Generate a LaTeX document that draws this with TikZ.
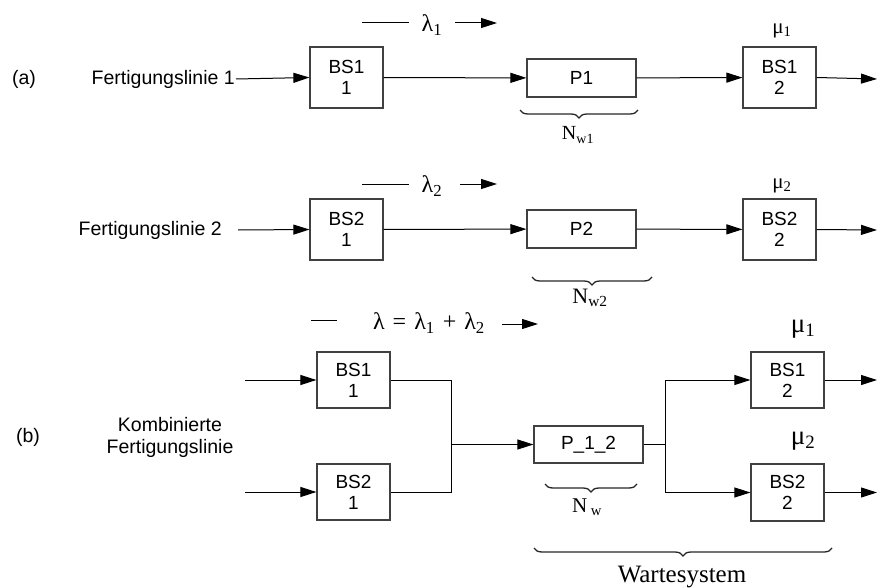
\documentclass[tikz,border=0pt]{standalone}
\usepackage{fontspec}
\setmainfont{Liberation Sans}
\newfontfamily\serif{Liberation Serif}
\usetikzlibrary{arrows.meta,decorations.pathreplacing}
\begin{document}
\begin{tikzpicture}[x=1pt,y=-1pt,
 box/.style={draw=black!75, line width=1.2pt, minimum width=73pt, minimum height=61pt, font=\fontsize{19}{21}\selectfont, align=center, inner sep=0pt},
 pbox/.style={box, minimum width=109pt, minimum height=38pt},
 conn/.style={line width=1pt, -{Triangle[length=16pt,width=10pt]}},
 ln/.style={line width=1pt},
 lbl/.style={font=\fontsize{19.5}{22}\selectfont, inner sep=1pt},
 gr/.style={font=\serif\fontsize{24}{26}\selectfont, inner sep=1pt},
 brc/.style={decorate, decoration={brace, amplitude=8pt}, line width=1.3pt, draw=black!85}
]
\useasboundingbox (0,0) rectangle (877,588);
% ---------- row 1
\node[lbl] (la) at (24,79) {(a)};
\node[lbl, anchor=east] (f1) at (236,79) {Fertigungslinie 1};
\node[box] (a11) at (346.5,77.5) {BS1\\1};
\node[pbox] (p1) at (581.5,78) {P1};
\node[box] (a12) at (779.5,77.5) {BS1\\2};
\coordinate (o1) at (877,79);
\draw[conn] (f1.east) -- (a11.west);
\draw[conn] (a11) -- (p1);
\draw[conn] (p1) -- (a12);
\draw[conn] (a12.east) -- (o1);
\node[gr] (l1) at (432,25) {λ\textsubscript{1}};
\coordinate (l1a) at (362,23); \coordinate (l1b) at (409,23);
\coordinate (l1c) at (455,23); \coordinate (l1d) at (497,23);
\draw[ln] (l1a) -- (l1b);
\draw[conn] (l1c) -- (l1d);
\node[gr, font=\serif\fontsize{21}{23}\selectfont] (m1) at (782,31) {μ\textsubscript{1}};
\coordinate (br1a) at (520,110); \coordinate (br1b) at (638,110);
\draw[brc] (br1b) -- (br1a);
\node[gr, font=\serif\fontsize{20}{22}\selectfont] (n1) at (578,135) {N\textsubscript{w1}};
% ---------- row 2
\node[lbl, anchor=east] (f2) at (223,230) {Fertigungslinie 2};
\node[box] (b11) at (346.5,229.5) {BS2\\1};
\node[pbox] (p2) at (581.5,229) {P2};
\node[box] (b12) at (779.5,229.5) {BS2\\2};
\coordinate (i2) at (238,230);
\coordinate (o2) at (877,230);
\draw[conn] (i2) -- (b11.west);
\draw[conn] (b11) -- (p2);
\draw[conn] (p2) -- (b12);
\draw[conn] (b12.east) -- (o2);
\node[gr] (l2) at (432,186) {λ\textsubscript{2}};
\coordinate (l2a) at (362,184); \coordinate (l2b) at (409,184);
\coordinate (l2c) at (460,184); \coordinate (l2d) at (497,184);
\draw[ln] (l2a) -- (l2b);
\draw[conn] (l2c) -- (l2d);
\node[gr, font=\serif\fontsize{21}{23}\selectfont] (m2) at (782,186) {μ\textsubscript{2}};
\coordinate (br2a) at (532,277); \coordinate (br2b) at (652,277);
\draw[brc] (br2b) -- (br2a);
\node[gr, font=\serif\fontsize{22}{24}\selectfont] (n2) at (590,298) {N\textsubscript{w2}};
% ---------- part b
\node[lbl] (lb) at (28,437) {(b)};
\node[lbl, align=center] (kf) at (170,437) {Kombinierte\\Fertigungslinie};
\node[box, minimum height=56pt] (c11) at (353.5,380) {BS1\\1};
\node[box, minimum height=56pt] (c21) at (353.5,492) {BS2\\1};
\node[pbox, minimum height=37pt] (p12) at (588.5,444.5) {P\_1\_2};
\node[box, minimum height=56pt] (c12) at (787.5,380) {BS1\\2};
\node[box, minimum height=57pt] (c22) at (787.5,492.5) {BS2\\2};
\coordinate (ia) at (245,380); \coordinate (ib) at (245,492);
\draw[conn] (ia) -- (c11.west);
\draw[conn] (ib) -- (c21.west);
\coordinate (ja) at (451,380); \coordinate (jb) at (451,492); \coordinate (jm) at (451,444.5);
\draw[ln] (c11.east) -- (ja) -- (jb) -- (c21.east);
\draw[conn] (jm) -- (p12.west);
\coordinate (sa) at (665,380); \coordinate (sb) at (665,492.5); \coordinate (sm) at (665,444.5);
\draw[ln] (p12.east) -- (sm);
\draw[ln] (sa) -- (sb);
\draw[conn] (sa) -- (c12.west);
\draw[conn] (sb) -- (c22.west);
\coordinate (oa) at (877,380); \coordinate (ob) at (877,492.5);
\draw[conn] (c12.east) -- (oa);
\draw[conn] (c22.east) -- (ob);
\node[gr] (lsum) at (429,323) {λ\,\,=\,\,λ\textsubscript{1}\,\,+\,\,λ\textsubscript{2}};
\coordinate (la1) at (311,320); \coordinate (la2) at (337,320);
\coordinate (la3) at (502,324); \coordinate (la4) at (538,324);
\draw[ln] (la1) -- (la2);
\draw[conn] (la3) -- (la4);
\node[gr, font=\serif\fontsize{27}{29}\selectfont] (mb1) at (803,329) {μ\textsubscript{1}};
\node[gr, font=\serif\fontsize{27}{29}\selectfont] (mb2) at (803,441) {μ\textsubscript{2}};
\coordinate (br3a) at (545,484); \coordinate (br3b) at (637,484);
\draw[brc] (br3b) -- (br3a);
\node[gr, font=\serif\fontsize{21}{23}\selectfont] (nw) at (587,507) {N\,\textsubscript{w}};
\coordinate (br4a) at (534,548); \coordinate (br4b) at (832,548);
\draw[brc] (br4b) -- (br4a);
\node[gr, font=\serif\fontsize{25}{27}\selectfont] (ws) at (682,577) {Wartesystem};
\end{tikzpicture}
\end{document}
